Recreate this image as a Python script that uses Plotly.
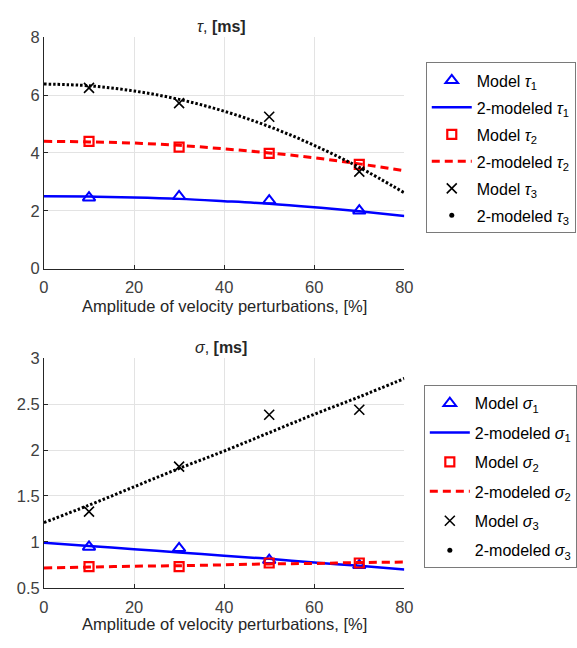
import plotly.graph_objects as go

W, H = 577, 648

# ---------------- data ----------------
x_model = [10, 30, 50, 70]
x_fit = [0, 10, 20, 30, 40, 50, 60, 70, 80]

tau1_model = [2.45, 2.50, 2.35, 2.00]
tau2_model = [4.40, 4.20, 3.98, 3.60]
tau3_model = [6.25, 5.72, 5.25, 3.35]
tau1_fit = [2.50, 2.49, 2.46, 2.41, 2.33, 2.24, 2.12, 1.98, 1.82]
tau2_fit = [4.40, 4.38, 4.34, 4.26, 4.14, 4.00, 3.83, 3.62, 3.38]
tau3_fit = [6.38, 6.32, 6.14, 5.85, 5.44, 4.91, 4.26, 3.50, 2.62]

sig1_model = [0.945, 0.93, 0.80, 0.745]
sig2_model = [0.73, 0.73, 0.77, 0.77]
sig3_model = [1.33, 1.82, 2.385, 2.44]
sig1_fit = [0.99, 0.955, 0.92, 0.885, 0.85, 0.815, 0.775, 0.74, 0.70]
sig2_fit = [0.715, 0.725, 0.735, 0.74, 0.75, 0.76, 0.765, 0.775, 0.78]
sig3_fit = [1.21, 1.40, 1.60, 1.80, 1.99, 2.19, 2.39, 2.58, 2.78]

x_ticks = [0, 20, 40, 60, 80]
tau_ticks = [0, 2, 4, 6, 8]
sig_ticks = [0.5, 1, 1.5, 2, 2.5, 3]

FONT = "Liberation Sans, Arial, Helvetica, sans-serif"
BLUE, RED, BLACK = "#0000ff", "#ff0000", "#000000"

fig = go.Figure()


def add_panel(sym, m1, m2, m3, f1, f2, f3, xa, ya, leg):
    lab = lambda kind, i: f"{kind} <i>{sym}</i><sub>{i}</sub>"
    g = lambda k: f"{leg}_{k}"
    fig.add_trace(go.Scatter(x=x_model, y=m1, mode="markers", name=lab("Model", 1), legendgroup=g(1),
                             marker=dict(symbol="triangle-up-open", size=11, color=BLUE, line=dict(width=2, color=BLUE)),
                             xaxis=xa, yaxis=ya, legend=leg))
    fig.add_trace(go.Scatter(x=x_fit, y=f1, mode="lines", name=lab("2-modeled", 1), legendgroup=g(2),
                             line=dict(color=BLUE, width=2.5, shape="spline"),
                             xaxis=xa, yaxis=ya, legend=leg))
    fig.add_trace(go.Scatter(x=x_model, y=m2, mode="markers", name=lab("Model", 2), legendgroup=g(3),
                             marker=dict(symbol="square-open", size=9, color=RED, line=dict(width=2.2, color=RED)),
                             xaxis=xa, yaxis=ya, legend=leg))
    fig.add_trace(go.Scatter(x=x_fit, y=f2, mode="lines", name=lab("2-modeled", 2), legendgroup=g(4),
                             line=dict(color=RED, width=3, dash="8px,5px", shape="spline"),
                             xaxis=xa, yaxis=ya, legend=leg))
    fig.add_trace(go.Scatter(x=x_model, y=m3, mode="markers", name=lab("Model", 3), legendgroup=g(5),
                             marker=dict(symbol="x-thin", size=10, color=BLACK, line=dict(width=1.6, color=BLACK)),
                             xaxis=xa, yaxis=ya, legend=leg))
    fig.add_trace(go.Scatter(x=x_fit, y=f3, mode="lines", name=lab("2-modeled", 3), legendgroup=g(6),
                             line=dict(color=BLACK, width=3, dash="2.5px,2px", shape="spline"),
                             xaxis=xa, yaxis=ya, showlegend=False))
    fig.add_trace(go.Scatter(x=[None], y=[None], mode="markers", name=lab("2-modeled", 3), legendgroup=g(6),
                             marker=dict(symbol="circle", size=5, color=BLACK),
                             xaxis=xa, yaxis=ya, legend=leg))


add_panel("τ", tau1_model, tau2_model, tau3_model, tau1_fit, tau2_fit, tau3_fit, "x", "y", "legend")
add_panel("σ", sig1_model, sig2_model, sig3_model, sig1_fit, sig2_fit, sig3_fit, "x2", "y2", "legend2")

px_x = lambda p: p / W
px_y = lambda p: 1 - p / H

axis_common = dict(showgrid=True, gridcolor="#e3e3e3", gridwidth=1, zeroline=False,
                   showline=True, linecolor="#262626", linewidth=1, mirror=False,
                   ticks="inside", ticklen=4, tickcolor="#262626",
                   tickfont=dict(family=FONT, size=16.5, color="#404040"))

leg_common = dict(xanchor="left", yanchor="top", bordercolor="#7a7a7a", borderwidth=1, bgcolor="white",
                  font=dict(family=FONT, size=16, color="#000"),
                  traceorder="grouped", itemwidth=40)

xdom = [px_x(40), px_x(410)]
fig.update_layout(
    width=W, height=H, margin=dict(l=0, r=0, t=0, b=0),
    paper_bgcolor="white", plot_bgcolor="white",
    font=dict(family=FONT, color="#262626"),
    xaxis=dict(domain=xdom, range=[0, 80], tickvals=x_ticks, anchor="y", ticklabelstandoff=4, **axis_common),
    yaxis=dict(domain=[px_y(267), px_y(29)], range=[0, 8], tickvals=tau_ticks, anchor="x", **axis_common),
    xaxis2=dict(domain=xdom, range=[0, 80], tickvals=x_ticks, anchor="y2", ticklabelstandoff=4, **axis_common),
    yaxis2=dict(domain=[px_y(595.3), px_y(359.3)], range=[0.5, 3], tickvals=sig_ticks, anchor="x2",
                tickformat="~g", **axis_common),
    legend=dict(x=px_x(432), y=px_y(55), tracegroupgap=3.2, **leg_common),
    legend2=dict(x=px_x(430), y=px_y(387), tracegroupgap=5.6, **leg_common),
    showlegend=True,
)

ann = [
    dict(text="<i>τ</i>, <b>[ms]</b>", x=px_x(222), y=px_y(18), size=16),
    dict(text="<i>σ</i>, <b>[ms]</b>", x=px_x(222), y=px_y(348), size=16),
    dict(text="Amplitude of velocity perturbations, [%]", x=px_x(225), y=px_y(305), size=16.5),
    dict(text="Amplitude of velocity perturbations, [%]", x=px_x(225), y=px_y(633), size=16.5),
]
for a in ann:
    size = a.pop("size")
    fig.add_annotation(xref="paper", yref="paper", xanchor="center", yanchor="middle",
                       showarrow=False, font=dict(family=FONT, size=size, color="#262626"), **a)

fig.write_html("out.html")
